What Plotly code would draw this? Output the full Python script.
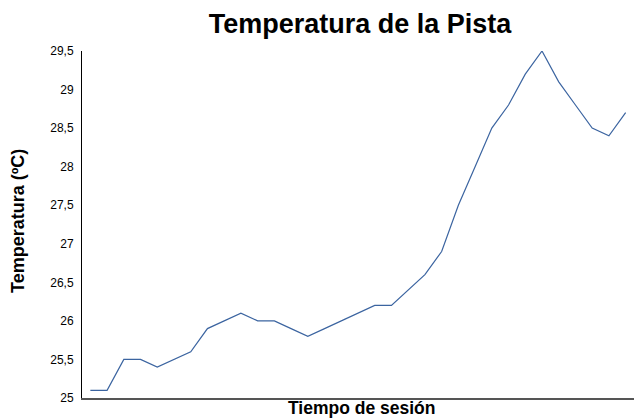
import plotly.graph_objects as go

# Data
minutes = list(range(1, 34))
temperatura = [25.1, 25.1, 25.5, 25.5, 25.4, 25.5, 25.6, 25.9, 26.0, 26.1, 26.0,
               26.0, 25.9, 25.8, 25.9, 26.0, 26.1, 26.2, 26.2, 26.4, 26.6, 26.9,
               27.5, 28.0, 28.5, 28.8, 29.2, 29.5, 29.1, 28.8, 28.5, 28.4, 28.7]
y_ticks = [25, 25.5, 26, 26.5, 27, 27.5, 28, 28.5, 29, 29.5]
y_tick_labels = ["25", "25,5", "26", "26,5", "27", "27,5", "28", "28,5", "29", "29,5"]

fig = go.Figure()
fig.add_trace(go.Scatter(
    x=minutes, y=temperatura, mode="lines",
    line=dict(color="#3b64a0", width=1.2),
    showlegend=False,
))

fig.update_layout(
    width=634, height=418,
    margin=dict(l=82, r=0, t=51, b=20, autoexpand=False),
    paper_bgcolor="white", plot_bgcolor="white",
    font=dict(family="Liberation Sans, Arial, sans-serif", color="black", size=12),
    title=dict(text="<b>Temperatura de la Pista</b>", x=360/634, xanchor="center",
               xref="container", yref="container", y=1 - 24/418, yanchor="middle",
               font=dict(size=27, color="black")),
    separators=",.",
    annotations=[
        dict(text="<b>Tiempo de sesión</b>", xref="paper", yref="paper",
             x=(362 - 82) / 552, y=-9.5 / 347, xanchor="center", yanchor="middle",
             showarrow=False, font=dict(size=17.5, color="black")),
        dict(text="<b>Temperatura (ºC)</b>", xref="paper", yref="paper",
             x=-64 / 552, y=(398 - 221) / 347, xanchor="center", yanchor="middle",
             textangle=-90,
             showarrow=False, font=dict(size=18, color="black")),
    ],
)
fig.update_xaxes(
    range=[0.5, 33.5], automargin=False,
    showticklabels=False, ticks="", showgrid=False, zeroline=False,
    showline=True, linecolor="#555555", linewidth=2,
)
fig.update_yaxes(
    range=[25, 29.5], automargin=False,
    tickvals=y_ticks, ticktext=y_tick_labels,
    ticks="", showgrid=False, zeroline=False,
    showline=True, linecolor="black", linewidth=1,
    ticklabelstandoff=5,
)

fig.write_html("out.html", config={"displayModeBar": False},
               post_script="document.body.style.margin='0';document.body.style.overflow='hidden';")
